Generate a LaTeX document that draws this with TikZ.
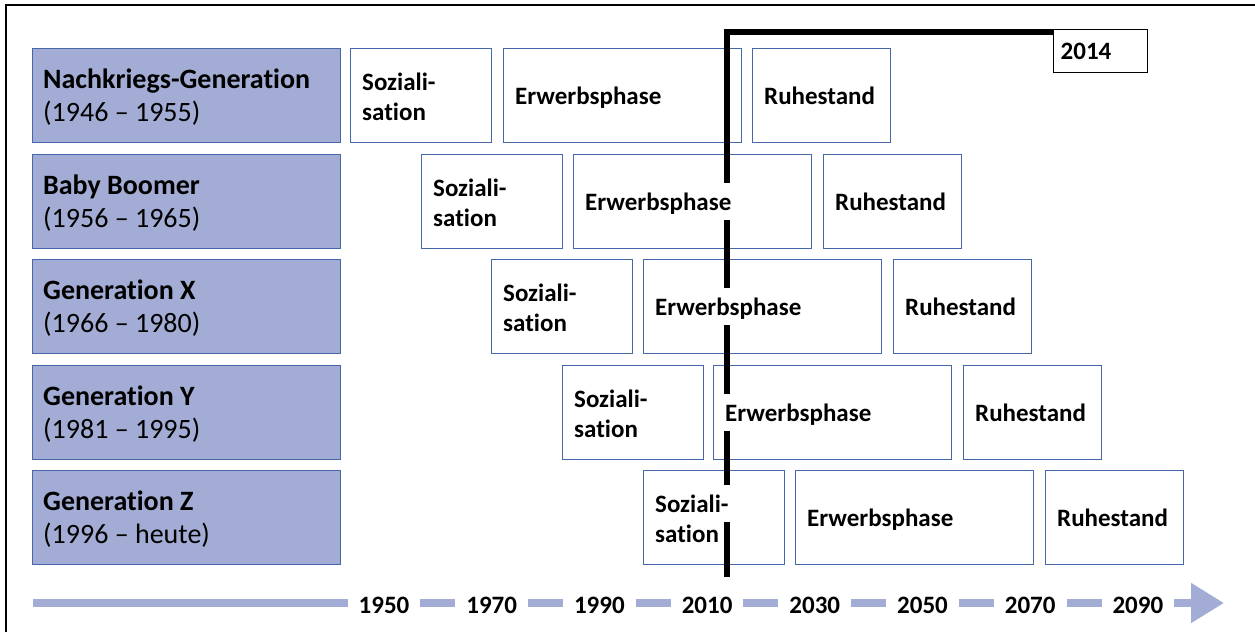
\documentclass[tikz,border=0pt]{standalone}
\usepackage{fontspec}
\setmainfont{Carlito}[Ligatures={NoCommon,NoContextual}]
\usetikzlibrary{arrows.meta}

\definecolor{genfill}{RGB}{163,172,212}
\definecolor{boxblue}{RGB}{70,104,168}

\newcommand{\genfont}{\fontsize{28}{33}\selectfont}
\newcommand{\phfont}{\fontsize{25}{30}\selectfont\bfseries}

\begin{document}
\begin{tikzpicture}[x=1pt,y=-1pt,
  gen/.style={draw=boxblue, fill=genfill, line width=1pt, anchor=north west,
    inner sep=0pt, minimum width=308pt, minimum height=94pt},
  phase/.style={draw=boxblue, fill=white, line width=0.9pt, anchor=north west,
    inner sep=0pt, minimum height=94pt},
  gentext/.style={anchor=base west, inner sep=0pt, font=\genfont},
  phtext/.style={anchor=base west, fill=white, font=\phfont,
    inner xsep=3pt, inner ysep=0pt, text height=27pt, text depth=10pt},
  yearbox/.style={draw=black, line width=1.3pt, fill=white, anchor=north west,
    minimum width=94pt, minimum height=43pt, text width=80pt, align=left,
    inner xsep=7pt, inner ysep=0pt, font=\phfont},
  marker/.style={draw=black, line width=6pt},
  axis/.style={draw=genfill, line width=8pt,
    -{Triangle[length=33pt,width=38pt]}},
  year/.style={fill=white, font=\phfont, inner xsep=11pt, inner ysep=4pt}
]
\useasboundingbox (0,0) rectangle (1255,632);
\fill[white] (0,0) rectangle (1255,632);

% outer frame
\draw[line width=2pt] (6,632) -- (6,5) -- (1255,5);

% generation rows: label box and the three life phases
\foreach \i/\ry/\sx/\ex/\rx/\title/\span in {
    1/48/350/503/752/{Nachkriegs-Generation}/{(1946 – 1955)},
    2/154/421/573/823/{Baby Boomer}/{(1956 – 1965)},
    3/259/491/643/893/{Generation X}/{(1966 – 1980)},
    4/365/562/713/963/{Generation Y}/{(1981 – 1995)},
    5/470/643/795/1045/{Generation Z}/{(1996 – heute)}} {
  \node[gen] (gen\i) at (32,\ry) {};
  \node[gentext] (gent\i) at (43,\ry+40) {\bfseries\title};
  \node[gentext] (geny\i) at (43,\ry+73.5) {\span};
  \node[phase, minimum width=141pt] (soz\i) at (\sx,\ry) {};
  \node[phase, minimum width=238pt] (erw\i) at (\ex,\ry) {};
  \node[phase, minimum width=138pt] (ruh\i) at (\rx,\ry) {};
}

% 2014 marker
\node[yearbox] (y2014) at (1053,29) {2014};
\coordinate (bend) at (727,32);
\coordinate (tail) at (727,577);
\draw[marker] (y2014.west |- bend) -- (bend) -- (tail);

% phase labels (white backing interrupts the marker line)
\foreach \i/\ry/\sx/\ex/\rx in {
    1/48/350/503/752, 2/154/421/573/823, 3/259/491/643/893,
    4/365/562/713/963, 5/470/643/795/1045} {
  \node[phtext] (soza\i) at (\sx+9,\ry+42) {Soziali-};
  \node[phtext] (sozb\i) at (\sx+9,\ry+72) {sation};
  \node[phtext] (erwt\i) at (\ex+9,\ry+56) {Erwerbsphase};
  \node[phtext] (ruht\i) at (\rx+9,\ry+56) {Ruhestand};
}

% time axis
\coordinate (axstart) at (33,603);
\coordinate (axend) at (1224,603);
\draw[axis] (axstart) -- (axend);
\foreach \k/\yr in {0/1950,1/1970,2/1990,3/2010,4/2030,5/2050,6/2070,7/2090} {
  \node[year] (ax\yr) at (384+107.7*\k,605) {\yr};
}
\end{tikzpicture}
\end{document}
